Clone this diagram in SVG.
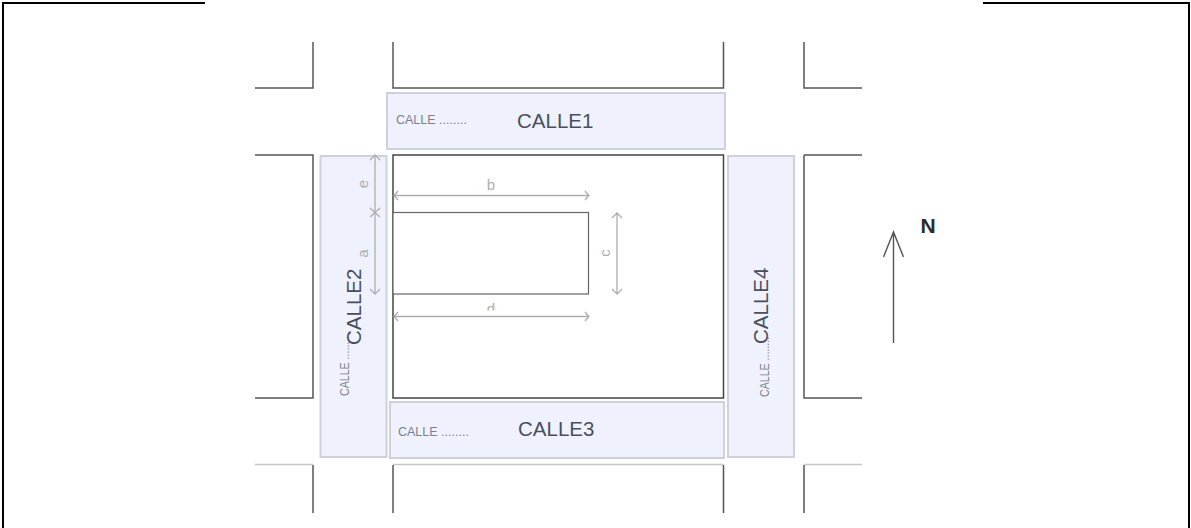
<svg xmlns="http://www.w3.org/2000/svg" width="1191" height="528" viewBox="0 0 1191 528">
<style>
text{font-family:"Liberation Sans",Arial,sans-serif}
.frame{fill:none;stroke:#000;stroke-width:2}
.wall{fill:none;stroke:#555;stroke-width:1.5}
.faint{fill:none;stroke:#c8c8c8;stroke-width:1.5}
.street{fill:#eff2fd;stroke:#cdd1de;stroke-width:2}
.big{font-size:20.500px;fill:#4a4f5e}
.small{font-size:12.500px;fill:#7c7f8a}
.dim{fill:none;stroke:#aeaeae;stroke-width:1.3}
.dl{font-size:15px;fill:#aeaeae}
.arrow{fill:none;stroke:#555;stroke-width:1.4}
</style>
<defs>
<clipPath id="dclip"><rect x="480" y="295" width="20" height="15.500"/></clipPath>
</defs>
<rect width="1191" height="528" fill="#fff"/>
<g id="frame">
<path class="frame" d="M3 528V3H205M983 3H1189V528"/>
</g>
<g id="blocks">
<path class="wall" d="M255 88H313V42M393 42V88H723.500V42M804 42V88H862"/>
<path class="wall" d="M255 155H313V398H255M804 155H862M804 155V398H862"/>
<path class="faint" d="M255 464.500H313M393 464.500H723.500M804 464.500H862"/>
<path class="wall" d="M313 465V513M393 465V513M723.500 465V513M804 465V513"/>
</g>
<g id="calle1">
<rect class="street" x="387" y="93" width="338" height="56"/>
<text class="small" x="396" y="124">CALLE ........</text>
<text class="big" x="517" y="128">CALLE1</text>
</g>
<g id="calle2">
<rect class="street" x="320.500" y="156" width="66" height="301"/>
<text class="small" transform="translate(349 396) rotate(-90) scale(.85 1)">CALLE ........</text>
<text class="big" transform="translate(361 345) rotate(-90)">CALLE2</text>
</g>
<g id="calle3">
<rect class="street" x="390" y="402" width="334" height="56"/>
<text class="small" x="398" y="436">CALLE ........</text>
<text class="big" x="518" y="436">CALLE3</text>
</g>
<g id="calle4">
<rect class="street" x="728" y="156" width="66" height="301"/>
<text class="small" transform="translate(769 397) rotate(-90) scale(.85 1)">CALLE ........</text>
<text class="big" transform="translate(768 344) rotate(-90)">CALLE4</text>
</g>
<g id="parcel">
<rect x="393" y="155" width="330.500" height="243" fill="#fff" stroke="#444" stroke-width="1.5"/>
<rect x="393" y="212.500" width="195.500" height="81.500" fill="#fff" stroke="#666" stroke-width="1.200"/>
</g>
<g id="connectors">
<path class="dim" d="M375 155V294M370 217L380 208M370 208L380 217M370 289L375 294L380 289M370 160L375 155L380 160"/>
<path class="dim" d="M394 195.500H589M398 191L394 195.500L398 200M585 191L589 195.500L585 200"/>
<path class="dim" d="M394 316.500H589M398 312L394 316.500L398 321M585 312L589 316.500L585 321"/>
<path class="dim" d="M617 213V294M612 218L617 213L622 218M612 289L617 294L622 289"/>
<path class="arrow" d="M893.500 343V233M883.500 257L893.500 232L903.500 257"/>
</g>
<g id="labels">
<text class="dl" transform="translate(368 184) rotate(-90)" text-anchor="middle">e</text>
<text class="dl" transform="translate(368 253.500) rotate(-90)" text-anchor="middle">a</text>
<text class="dl" x="491" y="190" text-anchor="middle">b</text>
<g clip-path="url(#dclip)"><text class="dl" x="491" y="314" text-anchor="middle">d</text></g>
<text class="dl" transform="translate(610 253) rotate(-90)" text-anchor="middle">c</text>
<text x="928" y="233" text-anchor="middle" style="font-size:21px;font-weight:bold;fill:#2a2a2a">N</text>
</g>
</svg>
